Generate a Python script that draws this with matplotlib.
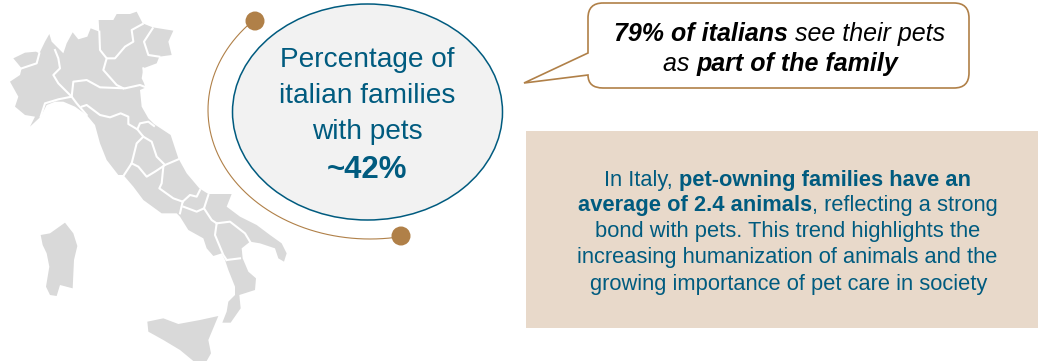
#!/usr/bin/env python

"""
Infographic on pets in italian families: region map, a headline bubble,
a speech callout and a text panel. Everything is laid out in pixels.
"""

import numpy as np
import matplotlib
matplotlib.use("Agg")
import matplotlib.pyplot as plt
from matplotlib.patches import Ellipse, PathPatch, Polygon, Rectangle
from matplotlib.path import Path

BLUE = "#005B7F"
TAN = "#B08048"
GREY = "#D9D9D9"
BEIGE = "#E8D9CA"

# Map traces are stored at 3x pixel scale.
mainland = [(30,245),(60,225),(65,205),(40,175),(75,158),(108,155),(118,160),(135,125),(148,102),
            (155,125),(170,140),(190,160),(200,130),(218,97),(235,118),(262,110),(272,85),(298,95),
            (296,60),(340,60),(350,42),(390,42),(410,35),(428,70),(458,82),(520,92),(505,125),
            (515,165),(478,170),(470,190),(430,205),(425,235),(438,262),(420,270),(425,320),(445,355),
            (462,372),(512,405),(535,475),(560,520),(598,565),(625,582),(695,582),(680,620),(720,650),
            (770,675),(810,705),(845,730),(860,760),(852,785),(835,775),(825,745),(780,730),(750,725),
            (725,745),(728,775),(745,815),(768,835),(765,870),(718,885),(722,925),(692,968),(667,968),
            (680,935),(685,905),(705,885),(705,860),(685,810),(675,780),(665,760),(640,768),(620,745),
            (610,715),(565,690),(540,650),(530,640),(485,640),(430,600),(400,560),(370,525),(355,525),
            (320,480),(300,430),(285,375),(260,345),(225,320),(190,305),(165,305),(140,315),(122,350),
            (90,380),(105,350),(75,345),(45,320),(55,290)]
sardinia = [(122,705),(150,700),(195,668),(220,700),(232,738),(222,780),(218,865),(180,855),
            (170,888),(150,885),(138,860),(148,800),(140,760),(128,735)]
sicily = [(442,965),(490,955),(535,972),(600,960),(655,948),(625,1020),(633,1060),(620,1083),
          (580,1083),(540,1050),(490,1020),(445,995)]
borders = [
    [(65,205),(110,190),(118,160)],
    [(165,150),(175,175),(180,205),(160,225),(175,250),(195,270),(215,290)],
    [(122,350),(135,310),(175,298),(215,290),(230,310),(260,345)],
    [(215,290),(220,245),(260,240),(300,262),(375,265),(420,255),(438,262)],
    [(298,95),(300,150),(320,175),(310,210),(350,255),(370,265)],
    [(322,175),(345,175),(375,140),(400,125),(395,90),(428,72)],
    [(458,85),(432,125),(445,165),(478,170)],
    [(430,205),(438,260)],
    [(245,320),(260,315),(300,345),(330,352),(362,340),(385,350),(385,372),(412,388),(420,370),(445,365),(462,378)],
    [(412,388),(430,410),(410,430),(400,470),(395,490),(372,525)],
    [(430,410),(455,425),(470,470),(495,495),(465,515),(440,530),(415,500),(395,490)],
    [(495,495),(535,478)],
    [(490,500),(485,550),(478,565),(520,595),(548,605)],
    [(548,605),(570,585),(590,590),(600,570)],
    [(625,585),(612,625)],
    [(548,605),(540,640)],
    [(550,620),(590,635),(612,625),(635,660),(650,670)],
    [(650,670),(690,665),(735,700),(750,725)],
    [(650,670),(645,705),(670,765),(680,780)],
    [(680,780),(720,775)],
]

bubble_lines = ["Percentage of", "italian families", "with pets"]
bubble_value = "~42%"
callout_lines = [
    [("79% of italians", "bold"), (" see their pets", "normal")],
    [("as ", "normal"), ("part of the family", "bold")],
]
panel_lines = [
    [("In Italy, ", "normal"), ("pet-owning families have an", "bold")],
    [("average of 2.4 animals", "bold"), (", reflecting a strong", "normal")],
    [("bond with pets. This trend highlights the", "normal")],
    [("increasing humanization of animals and the", "normal")],
    [("growing importance of pet care in society", "normal")],
]

plt.rcParams["font.family"] = ["Liberation Sans", "DejaVu Sans"]

fig = plt.figure(figsize=(10.38, 3.61), dpi=100)
ax = fig.add_axes([0, 0, 1, 1])
ax.set_xlim(0, 1038)
ax.set_ylim(361, 0)
ax.axis("off")
renderer = fig.canvas.get_renderer()


def scaled(points):
    return np.array(points) / 3.0


def run_width(string, **style):
    # a trailing dot keeps the spaces at the end of a run in the measurement
    t1 = ax.text(0, 0, string + ".", **style)
    t2 = ax.text(0, 0, ".", **style)
    width = t1.get_window_extent(renderer).width - t2.get_window_extent(renderer).width
    t1.remove()
    t2.remove()
    return width


def centered_runs(xc, y, runs, **style):
    widths = [run_width(s, fontweight=w, **style) for s, w in runs]
    x = xc - sum(widths) / 2.0
    for (s, w), width in zip(runs, widths):
        ax.text(x, y, s, fontweight=w, ha="left", va="baseline", **style)
        x += width


# Map of Italy with white region borders
for shape in [mainland, sardinia, sicily]:
    ax.add_patch(Polygon(scaled(shape), closed=True, fc=GREY, ec="none", zorder=1))
for line in borders:
    pts = scaled(line)
    ax.plot(pts[:, 0], pts[:, 1], color="white", lw=1.5, solid_joinstyle="round", zorder=2)

# Thin arc around the bubble with a dot on each end
angles = np.radians(np.linspace(79, 224, 200))
ax.plot(370 + 162 * np.cos(angles), 110 + 129 * np.sin(angles), color=TAN, lw=0.8, zorder=3)
ax.add_patch(Ellipse((255, 21), 19, 19, fc=TAN, ec="none", zorder=4))
ax.add_patch(Ellipse((401, 236), 19, 19, fc=TAN, ec="none", zorder=4))

# Headline bubble
ax.add_patch(Ellipse((367.5, 112), 270, 216, fc="#F2F2F2", ec=BLUE, lw=1.1, zorder=5))
for line, base in zip(bubble_lines, [67, 103, 139]):
    ax.text(367.5, base, line, color=BLUE, fontsize=20.2, ha="center", va="baseline", zorder=6)
ax.text(367.5, 178, bubble_value, color=BLUE, fontsize=22.4, fontweight="bold",
        ha="center", va="baseline", zorder=6)

# Speech callout, corners are quadratic curves
left, right, top, bottom, r = 588, 969, 3, 88, 15
verts = [(left + r, top), (right - r, top), (right, top), (right, top + r),
         (right, bottom - r), (right, bottom), (right - r, bottom),
         (left + r, bottom), (left, bottom), (left, bottom - r + 2),
         (left, 75), (524, 83), (left, 53),
         (left, top + r), (left, top), (left + r, top)]
codes = [Path.MOVETO, Path.LINETO, Path.CURVE3, Path.CURVE3,
         Path.LINETO, Path.CURVE3, Path.CURVE3,
         Path.LINETO, Path.CURVE3, Path.CURVE3,
         Path.LINETO, Path.LINETO, Path.LINETO,
         Path.LINETO, Path.CURVE3, Path.CURVE3]
ax.add_patch(PathPatch(Path(verts, codes), fc="white", ec=TAN, lw=1.2, joinstyle="miter", zorder=3))
for runs, base in zip(callout_lines, [41, 71]):
    centered_runs(780, base, runs, fontsize=18, fontstyle="italic", color="black", zorder=6)

# Text panel
ax.add_patch(Rectangle((526, 131), 512, 197, fc=BEIGE, ec="none", zorder=1))
for runs, base in zip(panel_lines, [186, 211, 237, 263, 290]):
    centered_runs(787.5, base, runs, fontsize=15.75, color=BLUE, zorder=6)

fig.savefig("out.png", dpi=100)
